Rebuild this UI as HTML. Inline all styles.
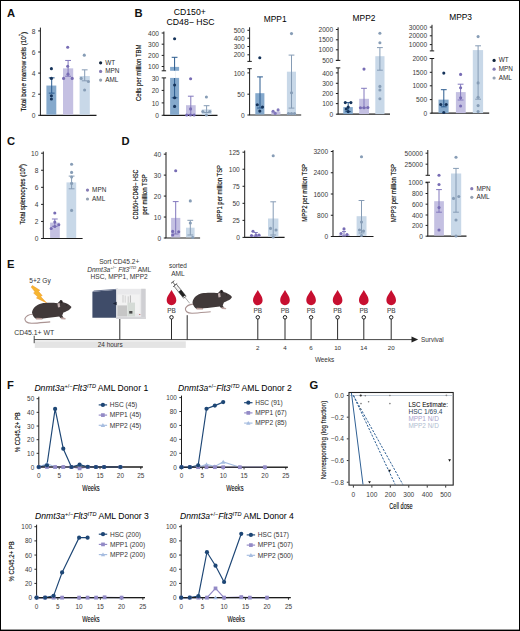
<!DOCTYPE html>
<html><head><meta charset="utf-8"><style>
html,body{margin:0;padding:0;background:#fff;}
body{width:520px;height:631px;overflow:hidden;}
svg{display:block;font-family:"Liberation Sans", sans-serif;}
</style></head><body>
<svg width="520" height="631" viewBox="0 0 520 631">
<rect x="0" y="0" width="520" height="631" fill="#fff"/>
<text x="7" y="16.8" font-size="11.2" fill="#111" font-weight="bold">A</text>
<line x1="40.4" y1="27.6" x2="40.4" y2="115.3" stroke="#1c1c1c" stroke-width="1"/>
<line x1="39.9" y1="115.3" x2="96.5" y2="115.3" stroke="#1c1c1c" stroke-width="1.2"/>
<line x1="38.2" y1="115.3" x2="40.4" y2="115.3" stroke="#1c1c1c" stroke-width="1"/>
<text x="35.5" y="117.94" font-size="6.6" text-anchor="end" fill="#3a3a3a">0</text>
<line x1="38.2" y1="94.2" x2="40.4" y2="94.2" stroke="#1c1c1c" stroke-width="1"/>
<text x="35.5" y="96.84" font-size="6.6" text-anchor="end" fill="#3a3a3a">2</text>
<line x1="38.2" y1="73.1" x2="40.4" y2="73.1" stroke="#1c1c1c" stroke-width="1"/>
<text x="35.5" y="75.74" font-size="6.6" text-anchor="end" fill="#3a3a3a">4</text>
<line x1="38.2" y1="52" x2="40.4" y2="52" stroke="#1c1c1c" stroke-width="1"/>
<text x="35.5" y="54.64" font-size="6.6" text-anchor="end" fill="#3a3a3a">6</text>
<line x1="38.2" y1="30.9" x2="40.4" y2="30.9" stroke="#1c1c1c" stroke-width="1"/>
<text x="35.5" y="33.54" font-size="6.6" text-anchor="end" fill="#3a3a3a">8</text>
<rect x="46.4" y="85.55" width="9.9" height="29.15" fill="#85a9cc"/>
<rect x="63" y="68.35" width="10.2" height="46.35" fill="#c4c0e2"/>
<rect x="79.6" y="76.05" width="10.2" height="38.65" fill="#c8d8e8"/>
<line x1="51.7" y1="77.85" x2="51.7" y2="93.14" stroke="#2a5a8e" stroke-width="1"/>
<line x1="48.8" y1="77.85" x2="54.6" y2="77.85" stroke="#2a5a8e" stroke-width="1"/>
<line x1="48.8" y1="93.14" x2="54.6" y2="93.14" stroke="#2a5a8e" stroke-width="1"/>
<line x1="68.1" y1="60.44" x2="68.1" y2="76.26" stroke="#8278bd" stroke-width="1"/>
<line x1="65.2" y1="60.44" x2="71" y2="60.44" stroke="#8278bd" stroke-width="1"/>
<line x1="65.2" y1="76.26" x2="71" y2="76.26" stroke="#8278bd" stroke-width="1"/>
<line x1="84.7" y1="69.83" x2="84.7" y2="80.8" stroke="#869cb5" stroke-width="1"/>
<line x1="81.8" y1="69.83" x2="87.6" y2="69.83" stroke="#869cb5" stroke-width="1"/>
<line x1="81.8" y1="80.8" x2="87.6" y2="80.8" stroke="#869cb5" stroke-width="1"/>
<circle cx="51.4" cy="68.67" r="1.55" fill="#15335a"/>
<circle cx="51.4" cy="78.38" r="1.55" fill="#15335a"/>
<circle cx="51.4" cy="95.78" r="1.55" fill="#15335a"/>
<circle cx="51.4" cy="98.95" r="1.55" fill="#15335a"/>
<circle cx="67.7" cy="47.25" r="1.55" fill="#776cb4"/>
<circle cx="67.7" cy="66.24" r="1.55" fill="#776cb4"/>
<circle cx="63.6" cy="78.38" r="1.55" fill="#776cb4"/>
<circle cx="72.2" cy="78.38" r="1.55" fill="#776cb4"/>
<circle cx="68" cy="74.16" r="1.55" fill="#776cb4"/>
<circle cx="84.3" cy="55.16" r="1.55" fill="#879db6"/>
<circle cx="81.2" cy="78.38" r="1.55" fill="#879db6"/>
<circle cx="88.4" cy="81.54" r="1.55" fill="#879db6"/>
<circle cx="84.6" cy="89.98" r="1.55" fill="#879db6"/>
<text x="26.2" y="71.7" font-size="7" text-anchor="middle" transform="rotate(-90 26.2 71.7)" textLength="79.4" lengthAdjust="spacingAndGlyphs" stroke="#222" stroke-width="0.15">Total bone marrow cells (10<tspan font-size="4.6" dy="-2.8">7</tspan><tspan dy="2.8">)</tspan></text>
<circle cx="100.6" cy="62.8" r="1.6" fill="#10243c"/>
<text x="105.2" y="64.7" font-size="6.4" fill="#2a2a2a">WT</text>
<circle cx="100.6" cy="71.45" r="1.6" fill="#857bb4"/>
<text x="105.2" y="73.35" font-size="6.4" fill="#2a2a2a">MPN</text>
<circle cx="100.6" cy="80.1" r="1.6" fill="#94a1b2"/>
<text x="105.2" y="82" font-size="6.4" fill="#2a2a2a">AML</text>
<text x="134.6" y="16.9" font-size="11.2" fill="#111" font-weight="bold">B</text>
<text x="189.8" y="14.5" font-size="8.7" text-anchor="middle">CD150+</text>
<text x="190.6" y="25.2" font-size="8.7" text-anchor="middle">CD48− HSC</text>
<text x="141.3" y="72.7" font-size="7.2" text-anchor="middle" transform="rotate(-90 141.3 72.7)" textLength="56.6" lengthAdjust="spacingAndGlyphs" stroke="#222" stroke-width="0.15">Cells per million TBM</text>
<line x1="163.9" y1="31.5" x2="163.9" y2="70.8" stroke="#1c1c1c" stroke-width="1"/>
<line x1="161.7" y1="70.8" x2="166.1" y2="70.8" stroke="#1c1c1c" stroke-width="1"/>
<line x1="163.9" y1="77.9" x2="163.9" y2="115.3" stroke="#1c1c1c" stroke-width="1"/>
<line x1="161.7" y1="77.9" x2="166.1" y2="77.9" stroke="#1c1c1c" stroke-width="1"/>
<line x1="163.4" y1="115.3" x2="217.5" y2="115.3" stroke="#1c1c1c" stroke-width="1.2"/>
<line x1="161.7" y1="33" x2="163.9" y2="33" stroke="#1c1c1c" stroke-width="1"/>
<text x="159" y="35.64" font-size="6.6" text-anchor="end" fill="#3a3a3a">400</text>
<line x1="161.7" y1="44.2" x2="163.9" y2="44.2" stroke="#1c1c1c" stroke-width="1"/>
<text x="159" y="46.84" font-size="6.6" text-anchor="end" fill="#3a3a3a">300</text>
<line x1="161.7" y1="55.4" x2="163.9" y2="55.4" stroke="#1c1c1c" stroke-width="1"/>
<text x="159" y="58.04" font-size="6.6" text-anchor="end" fill="#3a3a3a">200</text>
<line x1="161.7" y1="66.5" x2="163.9" y2="66.5" stroke="#1c1c1c" stroke-width="1"/>
<text x="159" y="69.14" font-size="6.6" text-anchor="end" fill="#3a3a3a">100</text>
<line x1="161.7" y1="90.4" x2="163.9" y2="90.4" stroke="#1c1c1c" stroke-width="1"/>
<text x="159" y="93.04" font-size="6.6" text-anchor="end" fill="#3a3a3a">20</text>
<line x1="161.7" y1="102.9" x2="163.9" y2="102.9" stroke="#1c1c1c" stroke-width="1"/>
<text x="159" y="105.54" font-size="6.6" text-anchor="end" fill="#3a3a3a">10</text>
<line x1="161.7" y1="115.3" x2="163.9" y2="115.3" stroke="#1c1c1c" stroke-width="1"/>
<text x="159" y="117.94" font-size="6.6" text-anchor="end" fill="#3a3a3a">0</text>
<text x="159" y="80.54" font-size="6.6" text-anchor="end" fill="#3a3a3a">30</text>
<rect x="170.1" y="66.9" width="9" height="3.9" fill="#85a9cc"/>
<rect x="170.1" y="77.9" width="9" height="37" fill="#85a9cc"/>
<line x1="174.6" y1="57.3" x2="174.6" y2="97.8" stroke="#2a5a8e" stroke-width="1"/>
<line x1="171.7" y1="57.3" x2="177.5" y2="57.3" stroke="#2a5a8e" stroke-width="1"/>
<line x1="171.7" y1="97.8" x2="177.5" y2="97.8" stroke="#2a5a8e" stroke-width="1"/>
<line x1="174.6" y1="70.8" x2="174.6" y2="77.9" stroke="#fff" stroke-width="1.2"/>
<circle cx="174.6" cy="38.8" r="1.55" fill="#15335a"/>
<circle cx="174.6" cy="85" r="1.55" fill="#15335a"/>
<circle cx="174.6" cy="97.8" r="1.55" fill="#15335a"/>
<circle cx="174.6" cy="106.4" r="1.55" fill="#15335a"/>
<rect x="186" y="105.2" width="9.7" height="9.7" fill="#c4c0e2"/>
<line x1="190.8" y1="96.2" x2="190.8" y2="114.5" stroke="#8278bd" stroke-width="1"/>
<line x1="187.9" y1="96.2" x2="193.7" y2="96.2" stroke="#8278bd" stroke-width="1"/>
<line x1="187.9" y1="114.5" x2="193.7" y2="114.5" stroke="#8278bd" stroke-width="1"/>
<circle cx="190.6" cy="78.7" r="1.55" fill="#776cb4"/>
<circle cx="190.6" cy="108.9" r="1.55" fill="#776cb4"/>
<circle cx="186.7" cy="115" r="1.55" fill="#776cb4"/>
<circle cx="194.1" cy="115" r="1.55" fill="#776cb4"/>
<circle cx="190.4" cy="115" r="1.55" fill="#776cb4"/>
<rect x="201.8" y="109.4" width="9.8" height="5.5" fill="#c8d8e8"/>
<line x1="206.6" y1="105.7" x2="206.6" y2="112.5" stroke="#869cb5" stroke-width="1"/>
<line x1="203.7" y1="105.7" x2="209.5" y2="105.7" stroke="#869cb5" stroke-width="1"/>
<line x1="203.7" y1="112.5" x2="209.5" y2="112.5" stroke="#869cb5" stroke-width="1"/>
<circle cx="206.4" cy="97" r="1.55" fill="#879db6"/>
<circle cx="202.8" cy="111.5" r="1.55" fill="#879db6"/>
<circle cx="209.8" cy="111.5" r="1.55" fill="#879db6"/>
<circle cx="206.4" cy="115" r="1.55" fill="#879db6"/>
<text x="275.2" y="22.1" font-size="8.4" text-anchor="middle">MPP1</text>
<line x1="249.6" y1="27.3" x2="249.6" y2="61.4" stroke="#1c1c1c" stroke-width="1"/>
<line x1="247.4" y1="61.4" x2="251.8" y2="61.4" stroke="#1c1c1c" stroke-width="1"/>
<line x1="249.6" y1="68.7" x2="249.6" y2="115" stroke="#1c1c1c" stroke-width="1"/>
<line x1="247.4" y1="68.7" x2="251.8" y2="68.7" stroke="#1c1c1c" stroke-width="1"/>
<line x1="249.1" y1="115" x2="301.2" y2="115" stroke="#1c1c1c" stroke-width="1.2"/>
<line x1="247.4" y1="30.3" x2="249.6" y2="30.3" stroke="#1c1c1c" stroke-width="1"/>
<text x="244.7" y="32.94" font-size="6.6" text-anchor="end" fill="#3a3a3a">500</text>
<line x1="247.4" y1="38.2" x2="249.6" y2="38.2" stroke="#1c1c1c" stroke-width="1"/>
<text x="244.7" y="40.84" font-size="6.6" text-anchor="end" fill="#3a3a3a">400</text>
<line x1="247.4" y1="46.5" x2="249.6" y2="46.5" stroke="#1c1c1c" stroke-width="1"/>
<text x="244.7" y="49.14" font-size="6.6" text-anchor="end" fill="#3a3a3a">300</text>
<line x1="247.4" y1="54.8" x2="249.6" y2="54.8" stroke="#1c1c1c" stroke-width="1"/>
<text x="244.7" y="57.44" font-size="6.6" text-anchor="end" fill="#3a3a3a">200</text>
<line x1="247.4" y1="72.9" x2="249.6" y2="72.9" stroke="#1c1c1c" stroke-width="1"/>
<text x="244.7" y="75.54" font-size="6.6" text-anchor="end" fill="#3a3a3a">100</text>
<line x1="247.4" y1="94.2" x2="249.6" y2="94.2" stroke="#1c1c1c" stroke-width="1"/>
<text x="244.7" y="96.84" font-size="6.6" text-anchor="end" fill="#3a3a3a">50</text>
<line x1="247.4" y1="115" x2="249.6" y2="115" stroke="#1c1c1c" stroke-width="1"/>
<text x="244.7" y="117.64" font-size="6.6" text-anchor="end" fill="#3a3a3a">0</text>
<rect x="255.3" y="93.2" width="9.1" height="21.3" fill="#85a9cc"/>
<line x1="260" y1="76.9" x2="260" y2="108" stroke="#2a5a8e" stroke-width="1"/>
<line x1="257.1" y1="76.9" x2="262.9" y2="76.9" stroke="#2a5a8e" stroke-width="1"/>
<line x1="257.1" y1="108" x2="262.9" y2="108" stroke="#2a5a8e" stroke-width="1"/>
<circle cx="259.8" cy="57.8" r="1.55" fill="#15335a"/>
<circle cx="257.3" cy="104.8" r="1.55" fill="#15335a"/>
<circle cx="262.5" cy="107" r="1.55" fill="#15335a"/>
<circle cx="259.8" cy="111.1" r="1.55" fill="#15335a"/>
<rect x="271.3" y="111.6" width="9.1" height="3" fill="#c4c0e2"/>
<circle cx="273.1" cy="111.3" r="1.55" fill="#8177bb"/>
<circle cx="278.1" cy="109.9" r="1.55" fill="#8177bb"/>
<circle cx="275.2" cy="113.4" r="1.55" fill="#8177bb"/>
<rect x="286.9" y="71.7" width="9.1" height="42.8" fill="#c8d8e8"/>
<line x1="291.5" y1="55.1" x2="291.5" y2="108.1" stroke="#869cb5" stroke-width="1"/>
<line x1="288.6" y1="55.1" x2="294.4" y2="55.1" stroke="#869cb5" stroke-width="1"/>
<line x1="288.6" y1="108.1" x2="294.4" y2="108.1" stroke="#869cb5" stroke-width="1"/>
<circle cx="291.5" cy="33.6" r="1.55" fill="#879db6"/>
<circle cx="291.5" cy="92.7" r="1.55" fill="#879db6"/>
<circle cx="288.5" cy="113.6" r="1.55" fill="#879db6"/>
<circle cx="291.5" cy="113.6" r="1.55" fill="#879db6"/>
<circle cx="294.5" cy="113.6" r="1.55" fill="#879db6"/>
<text x="364" y="21.2" font-size="8.4" text-anchor="middle">MPP2</text>
<line x1="338.1" y1="27.3" x2="338.1" y2="60.4" stroke="#1c1c1c" stroke-width="1"/>
<line x1="335.9" y1="60.4" x2="340.3" y2="60.4" stroke="#1c1c1c" stroke-width="1"/>
<line x1="338.1" y1="67.9" x2="338.1" y2="114.2" stroke="#1c1c1c" stroke-width="1"/>
<line x1="335.9" y1="67.9" x2="340.3" y2="67.9" stroke="#1c1c1c" stroke-width="1"/>
<line x1="337.6" y1="114.2" x2="390" y2="114.2" stroke="#1c1c1c" stroke-width="1.2"/>
<line x1="335.9" y1="29.5" x2="338.1" y2="29.5" stroke="#1c1c1c" stroke-width="1"/>
<text x="333.2" y="32.14" font-size="6.6" text-anchor="end" fill="#3a3a3a">2000</text>
<line x1="335.9" y1="39.8" x2="338.1" y2="39.8" stroke="#1c1c1c" stroke-width="1"/>
<text x="333.2" y="42.44" font-size="6.6" text-anchor="end" fill="#3a3a3a">1500</text>
<line x1="335.9" y1="49.8" x2="338.1" y2="49.8" stroke="#1c1c1c" stroke-width="1"/>
<text x="333.2" y="52.44" font-size="6.6" text-anchor="end" fill="#3a3a3a">1000</text>
<line x1="335.9" y1="60.4" x2="338.1" y2="60.4" stroke="#1c1c1c" stroke-width="1"/>
<text x="333.2" y="63.04" font-size="6.6" text-anchor="end" fill="#3a3a3a">500</text>
<line x1="335.9" y1="72.9" x2="338.1" y2="72.9" stroke="#1c1c1c" stroke-width="1"/>
<text x="333.2" y="75.54" font-size="6.6" text-anchor="end" fill="#3a3a3a">400</text>
<line x1="335.9" y1="83.3" x2="338.1" y2="83.3" stroke="#1c1c1c" stroke-width="1"/>
<text x="333.2" y="85.94" font-size="6.6" text-anchor="end" fill="#3a3a3a">300</text>
<line x1="335.9" y1="93.5" x2="338.1" y2="93.5" stroke="#1c1c1c" stroke-width="1"/>
<text x="333.2" y="96.14" font-size="6.6" text-anchor="end" fill="#3a3a3a">200</text>
<line x1="335.9" y1="103.6" x2="338.1" y2="103.6" stroke="#1c1c1c" stroke-width="1"/>
<text x="333.2" y="106.24" font-size="6.6" text-anchor="end" fill="#3a3a3a">100</text>
<line x1="335.9" y1="114.2" x2="338.1" y2="114.2" stroke="#1c1c1c" stroke-width="1"/>
<text x="333.2" y="116.84" font-size="6.6" text-anchor="end" fill="#3a3a3a">0</text>
<rect x="343.3" y="107.1" width="9.5" height="7" fill="#85a9cc"/>
<line x1="348.2" y1="102.6" x2="348.2" y2="111.6" stroke="#2a5a8e" stroke-width="1"/>
<line x1="345.3" y1="102.6" x2="351.1" y2="102.6" stroke="#2a5a8e" stroke-width="1"/>
<line x1="345.3" y1="111.6" x2="351.1" y2="111.6" stroke="#2a5a8e" stroke-width="1"/>
<circle cx="345.3" cy="102.6" r="1.55" fill="#15335a"/>
<circle cx="350.9" cy="102.6" r="1.55" fill="#15335a"/>
<circle cx="348.2" cy="107.1" r="1.55" fill="#15335a"/>
<circle cx="348.2" cy="111.6" r="1.55" fill="#15335a"/>
<circle cx="346.3" cy="109" r="1.55" fill="#15335a"/>
<rect x="359.2" y="98.8" width="9.8" height="15.3" fill="#c4c0e2"/>
<line x1="364" y1="88.3" x2="364" y2="107.8" stroke="#8278bd" stroke-width="1"/>
<line x1="361.1" y1="88.3" x2="366.9" y2="88.3" stroke="#8278bd" stroke-width="1"/>
<line x1="361.1" y1="107.8" x2="366.9" y2="107.8" stroke="#8278bd" stroke-width="1"/>
<circle cx="364" cy="69.1" r="1.55" fill="#776cb4"/>
<circle cx="360.4" cy="107.8" r="1.55" fill="#776cb4"/>
<circle cx="364" cy="107.8" r="1.55" fill="#776cb4"/>
<circle cx="367.9" cy="107.5" r="1.55" fill="#776cb4"/>
<rect x="375.3" y="56.2" width="9.2" height="57.9" fill="#c8d8e8"/>
<line x1="379.9" y1="47.6" x2="379.9" y2="70.2" stroke="#869cb5" stroke-width="1"/>
<line x1="377" y1="47.6" x2="382.8" y2="47.6" stroke="#869cb5" stroke-width="1"/>
<line x1="377" y1="70.2" x2="382.8" y2="70.2" stroke="#869cb5" stroke-width="1"/>
<circle cx="379.9" cy="33.3" r="1.55" fill="#879db6"/>
<circle cx="379.9" cy="42.8" r="1.55" fill="#879db6"/>
<circle cx="379.9" cy="86.4" r="1.55" fill="#879db6"/>
<circle cx="379.9" cy="90" r="1.55" fill="#879db6"/>
<circle cx="379.9" cy="98.8" r="1.55" fill="#879db6"/>
<text x="460.6" y="19.9" font-size="8.4" text-anchor="middle">MPP3</text>
<line x1="432" y1="24.8" x2="432" y2="50.9" stroke="#1c1c1c" stroke-width="1"/>
<line x1="429.8" y1="50.9" x2="434.2" y2="50.9" stroke="#1c1c1c" stroke-width="1"/>
<line x1="432" y1="58.5" x2="432" y2="113.2" stroke="#1c1c1c" stroke-width="1"/>
<line x1="429.8" y1="58.5" x2="434.2" y2="58.5" stroke="#1c1c1c" stroke-width="1"/>
<line x1="431.5" y1="113.2" x2="489.2" y2="113.2" stroke="#1c1c1c" stroke-width="1.2"/>
<line x1="429.8" y1="27.1" x2="432" y2="27.1" stroke="#1c1c1c" stroke-width="1"/>
<text x="427.1" y="29.74" font-size="6.6" text-anchor="end" fill="#3a3a3a">30000</text>
<line x1="429.8" y1="35.8" x2="432" y2="35.8" stroke="#1c1c1c" stroke-width="1"/>
<text x="427.1" y="38.44" font-size="6.6" text-anchor="end" fill="#3a3a3a">20000</text>
<line x1="429.8" y1="44.6" x2="432" y2="44.6" stroke="#1c1c1c" stroke-width="1"/>
<text x="427.1" y="47.24" font-size="6.6" text-anchor="end" fill="#3a3a3a">10000</text>
<line x1="429.8" y1="58.5" x2="432" y2="58.5" stroke="#1c1c1c" stroke-width="1"/>
<text x="427.1" y="61.14" font-size="6.6" text-anchor="end" fill="#3a3a3a">2000</text>
<line x1="429.8" y1="72.3" x2="432" y2="72.3" stroke="#1c1c1c" stroke-width="1"/>
<text x="427.1" y="74.94" font-size="6.6" text-anchor="end" fill="#3a3a3a">1500</text>
<line x1="429.8" y1="85.8" x2="432" y2="85.8" stroke="#1c1c1c" stroke-width="1"/>
<text x="427.1" y="88.44" font-size="6.6" text-anchor="end" fill="#3a3a3a">1000</text>
<line x1="429.8" y1="99.6" x2="432" y2="99.6" stroke="#1c1c1c" stroke-width="1"/>
<text x="427.1" y="102.24" font-size="6.6" text-anchor="end" fill="#3a3a3a">500</text>
<line x1="429.8" y1="113.2" x2="432" y2="113.2" stroke="#1c1c1c" stroke-width="1"/>
<text x="427.1" y="115.84" font-size="6.6" text-anchor="end" fill="#3a3a3a">0</text>
<rect x="438.5" y="99.6" width="10.1" height="13.5" fill="#85a9cc"/>
<line x1="443.8" y1="89.7" x2="443.8" y2="106.8" stroke="#2a5a8e" stroke-width="1"/>
<line x1="440.9" y1="89.7" x2="446.7" y2="89.7" stroke="#2a5a8e" stroke-width="1"/>
<line x1="440.9" y1="106.8" x2="446.7" y2="106.8" stroke="#2a5a8e" stroke-width="1"/>
<circle cx="443.8" cy="73.1" r="1.55" fill="#15335a"/>
<circle cx="440.8" cy="104.5" r="1.55" fill="#15335a"/>
<circle cx="446.2" cy="104.5" r="1.55" fill="#15335a"/>
<circle cx="443.8" cy="112.5" r="1.55" fill="#15335a"/>
<rect x="455.9" y="92.1" width="9.8" height="21" fill="#c4c0e2"/>
<line x1="460.6" y1="84.2" x2="460.6" y2="100" stroke="#8278bd" stroke-width="1"/>
<line x1="457.7" y1="84.2" x2="463.5" y2="84.2" stroke="#8278bd" stroke-width="1"/>
<line x1="457.7" y1="100" x2="463.5" y2="100" stroke="#8278bd" stroke-width="1"/>
<circle cx="460.6" cy="74.4" r="1.55" fill="#776cb4"/>
<circle cx="460.6" cy="87.8" r="1.55" fill="#776cb4"/>
<circle cx="460.6" cy="97.7" r="1.55" fill="#776cb4"/>
<circle cx="460.6" cy="106" r="1.55" fill="#776cb4"/>
<rect x="472.8" y="50.1" width="10.3" height="63" fill="#c8d8e8"/>
<line x1="478.1" y1="45.8" x2="478.1" y2="99.2" stroke="#869cb5" stroke-width="1"/>
<line x1="475.2" y1="45.8" x2="481" y2="45.8" stroke="#869cb5" stroke-width="1"/>
<line x1="475.2" y1="99.2" x2="481" y2="99.2" stroke="#869cb5" stroke-width="1"/>
<circle cx="478.1" cy="36.6" r="1.55" fill="#879db6"/>
<circle cx="478.1" cy="82.9" r="1.55" fill="#879db6"/>
<circle cx="478.1" cy="97.2" r="1.55" fill="#879db6"/>
<circle cx="478.1" cy="105.6" r="1.55" fill="#879db6"/>
<circle cx="478.1" cy="111.6" r="1.55" fill="#879db6"/>
<circle cx="494.1" cy="60.4" r="1.6" fill="#10243c"/>
<text x="498.7" y="62.3" font-size="6.4" fill="#2a2a2a">WT</text>
<circle cx="494.1" cy="69.2" r="1.6" fill="#857bb4"/>
<text x="498.7" y="71.1" font-size="6.4" fill="#2a2a2a">MPN</text>
<circle cx="494.1" cy="78" r="1.6" fill="#94a1b2"/>
<text x="498.7" y="79.9" font-size="6.4" fill="#2a2a2a">AML</text>
<text x="7.1" y="144.6" font-size="11.2" fill="#111" font-weight="bold">C</text>
<line x1="43.3" y1="151.5" x2="43.3" y2="238.5" stroke="#1c1c1c" stroke-width="1"/>
<line x1="42.8" y1="238.5" x2="82.6" y2="238.5" stroke="#1c1c1c" stroke-width="1.2"/>
<line x1="41.1" y1="238.5" x2="43.3" y2="238.5" stroke="#1c1c1c" stroke-width="1"/>
<text x="38.4" y="241.14" font-size="6.6" text-anchor="end" fill="#3a3a3a">0</text>
<line x1="41.1" y1="221.44" x2="43.3" y2="221.44" stroke="#1c1c1c" stroke-width="1"/>
<text x="38.4" y="224.08" font-size="6.6" text-anchor="end" fill="#3a3a3a">2</text>
<line x1="41.1" y1="204.38" x2="43.3" y2="204.38" stroke="#1c1c1c" stroke-width="1"/>
<text x="38.4" y="207.02" font-size="6.6" text-anchor="end" fill="#3a3a3a">4</text>
<line x1="41.1" y1="187.32" x2="43.3" y2="187.32" stroke="#1c1c1c" stroke-width="1"/>
<text x="38.4" y="189.96" font-size="6.6" text-anchor="end" fill="#3a3a3a">6</text>
<line x1="41.1" y1="170.26" x2="43.3" y2="170.26" stroke="#1c1c1c" stroke-width="1"/>
<text x="38.4" y="172.9" font-size="6.6" text-anchor="end" fill="#3a3a3a">8</text>
<line x1="41.1" y1="153.2" x2="43.3" y2="153.2" stroke="#1c1c1c" stroke-width="1"/>
<text x="38.4" y="155.84" font-size="6.6" text-anchor="end" fill="#3a3a3a">10</text>
<rect x="50.1" y="222.6" width="9.7" height="15.3" fill="#c4c0e2"/>
<line x1="54.8" y1="219" x2="54.8" y2="226.3" stroke="#8278bd" stroke-width="1"/>
<line x1="51.9" y1="219" x2="57.7" y2="219" stroke="#8278bd" stroke-width="1"/>
<line x1="51.9" y1="226.3" x2="57.7" y2="226.3" stroke="#8278bd" stroke-width="1"/>
<circle cx="54.8" cy="213" r="1.55" fill="#776cb4"/>
<circle cx="54.8" cy="222.1" r="1.55" fill="#776cb4"/>
<circle cx="51.2" cy="228.5" r="1.55" fill="#776cb4"/>
<circle cx="58.8" cy="224.8" r="1.55" fill="#776cb4"/>
<circle cx="54.8" cy="226.5" r="1.55" fill="#776cb4"/>
<rect x="66.5" y="182.4" width="9.7" height="55.5" fill="#c8d8e8"/>
<line x1="71.6" y1="176.1" x2="71.6" y2="188.8" stroke="#869cb5" stroke-width="1"/>
<line x1="68.7" y1="176.1" x2="74.5" y2="176.1" stroke="#869cb5" stroke-width="1"/>
<line x1="68.7" y1="188.8" x2="74.5" y2="188.8" stroke="#869cb5" stroke-width="1"/>
<circle cx="71.6" cy="164.2" r="1.55" fill="#879db6"/>
<circle cx="71.6" cy="172.4" r="1.55" fill="#879db6"/>
<circle cx="71.6" cy="177" r="1.55" fill="#879db6"/>
<circle cx="71.6" cy="183.4" r="1.55" fill="#879db6"/>
<circle cx="71.6" cy="210.4" r="1.55" fill="#879db6"/>
<text x="24.8" y="194.2" font-size="6.6" text-anchor="middle" transform="rotate(-90 24.8 194.2)" textLength="60.5" lengthAdjust="spacingAndGlyphs" stroke="#222" stroke-width="0.15">Total splenocytes (10<tspan font-size="4.4" dy="-2.6">8</tspan><tspan dy="2.6">)</tspan></text>
<circle cx="87.5" cy="190.1" r="1.6" fill="#857bb4"/>
<text x="92.1" y="192" font-size="6.4" fill="#2a2a2a">MPN</text>
<circle cx="87.5" cy="199" r="1.6" fill="#94a1b2"/>
<text x="92.1" y="200.9" font-size="6.4" fill="#2a2a2a">AML</text>
<text x="121.5" y="144.6" font-size="11.2" fill="#111" font-weight="bold">D</text>
<line x1="166" y1="152.1" x2="166" y2="238" stroke="#1c1c1c" stroke-width="1"/>
<line x1="165.5" y1="238" x2="200.1" y2="238" stroke="#1c1c1c" stroke-width="1.2"/>
<line x1="163.8" y1="238" x2="166" y2="238" stroke="#1c1c1c" stroke-width="1"/>
<text x="161.1" y="240.64" font-size="6.6" text-anchor="end" fill="#3a3a3a">0</text>
<line x1="163.8" y1="217.04" x2="166" y2="217.04" stroke="#1c1c1c" stroke-width="1"/>
<text x="161.1" y="219.68" font-size="6.6" text-anchor="end" fill="#3a3a3a">10</text>
<line x1="163.8" y1="196.08" x2="166" y2="196.08" stroke="#1c1c1c" stroke-width="1"/>
<text x="161.1" y="198.72" font-size="6.6" text-anchor="end" fill="#3a3a3a">20</text>
<line x1="163.8" y1="175.12" x2="166" y2="175.12" stroke="#1c1c1c" stroke-width="1"/>
<text x="161.1" y="177.76" font-size="6.6" text-anchor="end" fill="#3a3a3a">30</text>
<line x1="163.8" y1="154.16" x2="166" y2="154.16" stroke="#1c1c1c" stroke-width="1"/>
<text x="161.1" y="156.8" font-size="6.6" text-anchor="end" fill="#3a3a3a">40</text>
<rect x="171.1" y="217.9" width="9.2" height="19.5" fill="#c4c0e2"/>
<line x1="175.7" y1="201.6" x2="175.7" y2="234" stroke="#8278bd" stroke-width="1"/>
<line x1="172.8" y1="201.6" x2="178.6" y2="201.6" stroke="#8278bd" stroke-width="1"/>
<line x1="172.8" y1="234" x2="178.6" y2="234" stroke="#8278bd" stroke-width="1"/>
<circle cx="175.7" cy="170.8" r="1.55" fill="#776cb4"/>
<circle cx="172.7" cy="231.4" r="1.55" fill="#776cb4"/>
<circle cx="178.7" cy="231.8" r="1.55" fill="#776cb4"/>
<circle cx="172.7" cy="235" r="1.55" fill="#776cb4"/>
<rect x="186" y="227.7" width="8.6" height="9.7" fill="#c8d8e8"/>
<line x1="190.3" y1="220.3" x2="190.3" y2="235" stroke="#869cb5" stroke-width="1"/>
<line x1="187.4" y1="220.3" x2="193.2" y2="220.3" stroke="#869cb5" stroke-width="1"/>
<line x1="187.4" y1="235" x2="193.2" y2="235" stroke="#869cb5" stroke-width="1"/>
<circle cx="190.3" cy="200.9" r="1.55" fill="#879db6"/>
<circle cx="190.3" cy="223" r="1.55" fill="#879db6"/>
<circle cx="192.7" cy="237.5" r="1.55" fill="#879db6"/>
<text x="137.5" y="194.5" font-size="6.8" text-anchor="middle" transform="rotate(-90 137.5 194.5)" textLength="50" lengthAdjust="spacingAndGlyphs" stroke="#222" stroke-width="0.15">CD150+CD48− HSC</text>
<text x="147" y="194.5" font-size="6.8" text-anchor="middle" transform="rotate(-90 147 194.5)" textLength="40.4" lengthAdjust="spacingAndGlyphs" stroke="#222" stroke-width="0.15">per million TSP</text>
<line x1="244.7" y1="150.5" x2="244.7" y2="237.4" stroke="#1c1c1c" stroke-width="1"/>
<line x1="244.2" y1="237.4" x2="284.6" y2="237.4" stroke="#1c1c1c" stroke-width="1.2"/>
<line x1="242.5" y1="237.4" x2="244.7" y2="237.4" stroke="#1c1c1c" stroke-width="1"/>
<text x="239.8" y="240.04" font-size="6.6" text-anchor="end" fill="#3a3a3a">0</text>
<line x1="242.5" y1="220.36" x2="244.7" y2="220.36" stroke="#1c1c1c" stroke-width="1"/>
<text x="239.8" y="223" font-size="6.6" text-anchor="end" fill="#3a3a3a">25</text>
<line x1="242.5" y1="203.32" x2="244.7" y2="203.32" stroke="#1c1c1c" stroke-width="1"/>
<text x="239.8" y="205.96" font-size="6.6" text-anchor="end" fill="#3a3a3a">50</text>
<line x1="242.5" y1="186.28" x2="244.7" y2="186.28" stroke="#1c1c1c" stroke-width="1"/>
<text x="239.8" y="188.92" font-size="6.6" text-anchor="end" fill="#3a3a3a">75</text>
<line x1="242.5" y1="169.24" x2="244.7" y2="169.24" stroke="#1c1c1c" stroke-width="1"/>
<text x="239.8" y="171.88" font-size="6.6" text-anchor="end" fill="#3a3a3a">100</text>
<line x1="242.5" y1="152.2" x2="244.7" y2="152.2" stroke="#1c1c1c" stroke-width="1"/>
<text x="239.8" y="154.84" font-size="6.6" text-anchor="end" fill="#3a3a3a">125</text>
<rect x="250.7" y="235" width="10.3" height="1.8" fill="#c4c0e2"/>
<circle cx="253" cy="231.2" r="1.55" fill="#776cb4"/>
<circle cx="256" cy="235" r="1.55" fill="#776cb4"/>
<circle cx="259" cy="235" r="1.55" fill="#776cb4"/>
<circle cx="251.5" cy="235.5" r="1.55" fill="#776cb4"/>
<line x1="255.8" y1="232.5" x2="255.8" y2="236.5" stroke="#8278bd" stroke-width="1"/>
<line x1="253.8" y1="232.5" x2="257.8" y2="232.5" stroke="#8278bd" stroke-width="1"/>
<line x1="253.8" y1="236.5" x2="257.8" y2="236.5" stroke="#8278bd" stroke-width="1"/>
<rect x="268" y="218.5" width="10.4" height="18.3" fill="#c8d8e8"/>
<line x1="273.2" y1="201.8" x2="273.2" y2="235" stroke="#869cb5" stroke-width="1"/>
<line x1="270.3" y1="201.8" x2="276.1" y2="201.8" stroke="#869cb5" stroke-width="1"/>
<line x1="270.3" y1="235" x2="276.1" y2="235" stroke="#869cb5" stroke-width="1"/>
<circle cx="273.2" cy="155.7" r="1.55" fill="#879db6"/>
<circle cx="270.5" cy="228.4" r="1.55" fill="#879db6"/>
<circle cx="276" cy="230" r="1.55" fill="#879db6"/>
<circle cx="273.2" cy="237" r="1.55" fill="#879db6"/>
<text x="222.3" y="193.6" font-size="7" text-anchor="middle" transform="rotate(-90 222.3 193.6)" textLength="57.2" lengthAdjust="spacingAndGlyphs" stroke="#222" stroke-width="0.15">MPP1 per million TSP</text>
<line x1="333" y1="150" x2="333" y2="236.5" stroke="#1c1c1c" stroke-width="1"/>
<line x1="332.5" y1="236.5" x2="373.5" y2="236.5" stroke="#1c1c1c" stroke-width="1.2"/>
<line x1="330.8" y1="236.5" x2="333" y2="236.5" stroke="#1c1c1c" stroke-width="1"/>
<text x="328.1" y="239.14" font-size="6.6" text-anchor="end" fill="#3a3a3a">0</text>
<line x1="330.8" y1="215.25" x2="333" y2="215.25" stroke="#1c1c1c" stroke-width="1"/>
<text x="328.1" y="217.89" font-size="6.6" text-anchor="end" fill="#3a3a3a">800</text>
<line x1="330.8" y1="194" x2="333" y2="194" stroke="#1c1c1c" stroke-width="1"/>
<text x="328.1" y="196.64" font-size="6.6" text-anchor="end" fill="#3a3a3a">1600</text>
<line x1="330.8" y1="172.75" x2="333" y2="172.75" stroke="#1c1c1c" stroke-width="1"/>
<text x="328.1" y="175.39" font-size="6.6" text-anchor="end" fill="#3a3a3a">2400</text>
<line x1="330.8" y1="151.5" x2="333" y2="151.5" stroke="#1c1c1c" stroke-width="1"/>
<text x="328.1" y="154.14" font-size="6.6" text-anchor="end" fill="#3a3a3a">3200</text>
<rect x="338.8" y="234.6" width="10.9" height="1.4" fill="#c4c0e2"/>
<line x1="344" y1="231.6" x2="344" y2="236" stroke="#8278bd" stroke-width="1"/>
<line x1="342" y1="231.6" x2="346" y2="231.6" stroke="#8278bd" stroke-width="1"/>
<line x1="342" y1="236" x2="346" y2="236" stroke="#8278bd" stroke-width="1"/>
<circle cx="344" cy="228.9" r="1.55" fill="#776cb4"/>
<circle cx="341" cy="233.5" r="1.55" fill="#776cb4"/>
<circle cx="347" cy="234.5" r="1.55" fill="#776cb4"/>
<rect x="356.6" y="216.2" width="9.9" height="19.7" fill="#c8d8e8"/>
<line x1="361.5" y1="200.5" x2="361.5" y2="233" stroke="#869cb5" stroke-width="1"/>
<line x1="358.6" y1="200.5" x2="364.4" y2="200.5" stroke="#869cb5" stroke-width="1"/>
<line x1="358.6" y1="233" x2="364.4" y2="233" stroke="#869cb5" stroke-width="1"/>
<circle cx="361.5" cy="156.8" r="1.55" fill="#879db6"/>
<circle cx="361.5" cy="222" r="1.55" fill="#879db6"/>
<circle cx="359.5" cy="230" r="1.55" fill="#879db6"/>
<circle cx="363.5" cy="231" r="1.55" fill="#879db6"/>
<circle cx="361.5" cy="235.5" r="1.55" fill="#879db6"/>
<text x="307.4" y="192.8" font-size="7" text-anchor="middle" transform="rotate(-90 307.4 192.8)" textLength="57.7" lengthAdjust="spacingAndGlyphs" stroke="#222" stroke-width="0.15">MPP2 per million TSP</text>
<line x1="427.8" y1="150" x2="427.8" y2="175.3" stroke="#1c1c1c" stroke-width="1"/>
<line x1="425.6" y1="175.3" x2="430" y2="175.3" stroke="#1c1c1c" stroke-width="1"/>
<line x1="427.8" y1="182.2" x2="427.8" y2="236.2" stroke="#1c1c1c" stroke-width="1"/>
<line x1="425.6" y1="182.2" x2="430" y2="182.2" stroke="#1c1c1c" stroke-width="1"/>
<line x1="427.3" y1="236.2" x2="466.5" y2="236.2" stroke="#1c1c1c" stroke-width="1.2"/>
<line x1="425.6" y1="153.2" x2="427.8" y2="153.2" stroke="#1c1c1c" stroke-width="1"/>
<text x="422.9" y="155.84" font-size="6.6" text-anchor="end" fill="#3a3a3a">50000</text>
<line x1="425.6" y1="164.2" x2="427.8" y2="164.2" stroke="#1c1c1c" stroke-width="1"/>
<text x="422.9" y="166.84" font-size="6.6" text-anchor="end" fill="#3a3a3a">25000</text>
<line x1="425.6" y1="182.7" x2="427.8" y2="182.7" stroke="#1c1c1c" stroke-width="1"/>
<text x="422.9" y="185.34" font-size="6.6" text-anchor="end" fill="#3a3a3a">1000</text>
<line x1="425.6" y1="193.5" x2="427.8" y2="193.5" stroke="#1c1c1c" stroke-width="1"/>
<text x="422.9" y="196.14" font-size="6.6" text-anchor="end" fill="#3a3a3a">800</text>
<line x1="425.6" y1="204.2" x2="427.8" y2="204.2" stroke="#1c1c1c" stroke-width="1"/>
<text x="422.9" y="206.84" font-size="6.6" text-anchor="end" fill="#3a3a3a">600</text>
<line x1="425.6" y1="215" x2="427.8" y2="215" stroke="#1c1c1c" stroke-width="1"/>
<text x="422.9" y="217.64" font-size="6.6" text-anchor="end" fill="#3a3a3a">400</text>
<line x1="425.6" y1="225.4" x2="427.8" y2="225.4" stroke="#1c1c1c" stroke-width="1"/>
<text x="422.9" y="228.04" font-size="6.6" text-anchor="end" fill="#3a3a3a">200</text>
<line x1="425.6" y1="236.2" x2="427.8" y2="236.2" stroke="#1c1c1c" stroke-width="1"/>
<text x="422.9" y="238.84" font-size="6.6" text-anchor="end" fill="#3a3a3a">0</text>
<rect x="434.2" y="201.2" width="9.7" height="34.4" fill="#c4c0e2"/>
<line x1="439" y1="189.6" x2="439" y2="212.2" stroke="#8278bd" stroke-width="1"/>
<line x1="436.1" y1="189.6" x2="441.9" y2="189.6" stroke="#8278bd" stroke-width="1"/>
<line x1="436.1" y1="212.2" x2="441.9" y2="212.2" stroke="#8278bd" stroke-width="1"/>
<circle cx="439" cy="175.3" r="1.55" fill="#776cb4"/>
<circle cx="439" cy="184.5" r="1.55" fill="#776cb4"/>
<circle cx="439" cy="207.6" r="1.55" fill="#776cb4"/>
<circle cx="439" cy="230" r="1.55" fill="#776cb4"/>
<rect x="451" y="173.5" width="10.2" height="62.1" fill="#c8d8e8"/>
<line x1="456" y1="168.4" x2="456" y2="212.2" stroke="#869cb5" stroke-width="1"/>
<line x1="453.1" y1="168.4" x2="458.9" y2="168.4" stroke="#869cb5" stroke-width="1"/>
<line x1="453.1" y1="212.2" x2="458.9" y2="212.2" stroke="#869cb5" stroke-width="1"/>
<circle cx="456" cy="157.3" r="1.55" fill="#879db6"/>
<circle cx="453.5" cy="198.4" r="1.55" fill="#879db6"/>
<circle cx="458.8" cy="196.5" r="1.55" fill="#879db6"/>
<circle cx="456" cy="220" r="1.55" fill="#879db6"/>
<circle cx="456" cy="236" r="1.55" fill="#879db6"/>
<circle cx="471.8" cy="188.7" r="1.6" fill="#857bb4"/>
<text x="476.4" y="190.6" font-size="6.4" fill="#2a2a2a">MPN</text>
<circle cx="471.8" cy="197.3" r="1.6" fill="#94a1b2"/>
<text x="476.4" y="199.2" font-size="6.4" fill="#2a2a2a">AML</text>
<text x="396.3" y="193.1" font-size="7" text-anchor="middle" transform="rotate(-90 396.3 193.1)" textLength="58.2" lengthAdjust="spacingAndGlyphs" stroke="#222" stroke-width="0.15">MPP3 per million TSP</text>
<text x="7.1" y="267.8" font-size="11.2" fill="#111" font-weight="bold">E</text>
<text x="40" y="283.2" font-size="6.6" text-anchor="middle" fill="#333">5+2 Gy</text>
<path d="M32.4 285.5 L39.9 290.3 L38.4 291.3 L42.2 295.6 L40.6 296.5 L46.7 302.9 L36.4 297.9 L38.0 297.0 L33.6 293.0 L35.1 292.0 L31.2 287.1 Z" fill="#f6b530" stroke="#ef8d1e" stroke-width="0.45"/>
<g transform="translate(0 0)">
<path d="M32.6 314.2 C29.5 314.4 26.2 315.8 25.0 318.4 C24.4 321 26.5 323.2 31.5 323.3 C38 323.2 44 322.4 50.2 321.9" fill="none" stroke="#aa9392" stroke-width="1.15"/>
<path d="M32 312.6 C32.5 308 36.5 304.6 41.5 303.4 C46 302.6 53 302.8 57.5 303.2 L59.2 301.4 L60.6 299.9 L62.2 300.6 L63 302.2 C66.5 303 69.8 304.8 71.5 307 C70.8 308.6 69.5 309.8 68.2 310.4 C66.5 311.2 64.5 312 63.4 312.6 L62.2 315.6 L63.6 317.8 L60.6 318.2 L59.2 316.6 C54 317.4 48 317.8 43 318.4 L41.5 319.0 L36.5 319.0 C34 318 32.6 316 32 312.6 Z" fill="#413939"/>
<path d="M57.4 303.6 L59.6 303.0 L60.2 307.0 L58.0 307.6 Z" fill="#c6b3b2"/>
<path d="M60.4 300.2 L61.8 300.8 L62.0 303.0 L60.6 303.2 Z" fill="#241f20"/>
<circle cx="66.2" cy="305" r="0.45" fill="#0d0d0d"/>
<path d="M60.8 317.4 L63.8 317.6 L65.8 318.4 L65.4 319.4 L61.2 319.2 Z" fill="#bfa5a2"/>
<path d="M36.2 317.8 L42.0 318.0 L42.6 319.6 L36.0 319.6 Z" fill="#b49894"/>
</g>
<text x="34.2" y="334.6" font-size="6.9" text-anchor="middle" fill="#333">CD45.1+ WT</text>
<rect x="34.8" y="341.3" width="151" height="6.6" fill="#e4e4e4"/>
<text x="110.2" y="346.6" font-size="6.4" text-anchor="middle" fill="#333">24 hours</text>
<line x1="34.2" y1="335.8" x2="34.2" y2="343.2" stroke="#333" stroke-width="0.9"/>
<line x1="34.2" y1="339.6" x2="413.5" y2="339.6" stroke="#333" stroke-width="0.9"/>
<path d="M411.5 336.6 L418.2 339.6 L411.5 342.6 Z" fill="#222"/>
<text x="421" y="342" font-size="6.4" fill="#333">Survival</text>
<text x="324.6" y="362.3" font-size="6.4" text-anchor="middle" fill="#333">Weeks</text>
<text x="119.2" y="263.9" font-size="6.6" text-anchor="middle" fill="#333">Sort CD45.2+</text>
<text x="119.2" y="271.6" font-size="6.6" text-anchor="middle" fill="#333"><tspan font-style="italic">Dnmt3a</tspan><tspan font-size="4.3" dy="-2.3">+/−</tspan><tspan font-style="italic" dy="2.3"> Flt3</tspan><tspan font-size="4.3" dy="-2.3" font-style="italic">ITD</tspan><tspan dy="2.3"> AML</tspan></text>
<text x="119.2" y="279.2" font-size="6.6" text-anchor="middle" fill="#333">HSC, MPP1, MPP2</text>
<path d="M92.4 291.8 L116.6 289.8 L116.6 317.8 L92.4 317.8 Z" fill="#3f4c69"/>
<path d="M92.4 291.8 L116.6 289.8 L118 288.8 L94 290.6 Z" fill="#6a7590"/>
<rect x="116.2" y="288.8" width="29.4" height="30.2" fill="#e9e9eb"/>
<rect x="141.2" y="288.8" width="4.4" height="30.2" fill="#cfcfd3"/>
<rect x="117.6" y="294.4" width="22.2" height="19" fill="#f2f2f2"/>
<rect x="117.4" y="305.4" width="9.6" height="11" fill="#c6c6c6"/>
<rect x="127.4" y="302.6" width="7.6" height="13.8" fill="#d5dbd6"/>
<line x1="123" y1="295" x2="123" y2="302.6" stroke="#a8a8a8" stroke-width="0.5"/>
<line x1="125.2" y1="295.6" x2="125.2" y2="302.6" stroke="#b4b4b4" stroke-width="0.5"/>
<line x1="130.4" y1="295.4" x2="130.4" y2="302.6" stroke="#8e8e8e" stroke-width="0.6"/>
<line x1="128.2" y1="296.4" x2="128.2" y2="302.6" stroke="#a0a0a0" stroke-width="0.5"/>
<rect x="129.2" y="311" width="3.2" height="2.6" fill="#4a4a4a"/>
<rect x="116.2" y="316.8" width="29.4" height="2.2" fill="#d6d6d9"/>
<path d="M112.8 303.4 L116.6 301.8 L116.6 305.2 Z" fill="#1b2336"/>
<circle cx="139.8" cy="314.6" r="0.5" fill="#a33"/>
<line x1="119.8" y1="319" x2="119.8" y2="339.6" stroke="#2a2a2a" stroke-width="1"/>
<text x="178" y="267.7" font-size="6.4" text-anchor="middle" fill="#333">sorted</text>
<text x="178" y="275.8" font-size="6.6" text-anchor="middle" fill="#333">AML</text>
<g transform="translate(172.7 282) rotate(51.4)">
<line x1="0" y1="-2.1" x2="0" y2="2.1" stroke="#333" stroke-width="0.8"/>
<line x1="0" y1="0" x2="4" y2="0" stroke="#333" stroke-width="0.7"/>
<line x1="4" y1="-2.5" x2="4" y2="2.5" stroke="#333" stroke-width="0.8"/>
<rect x="4" y="-1.6" width="15.5" height="3.2" fill="#fbfbfb" stroke="#3a3a3a" stroke-width="0.6"/>
<rect x="11.3" y="-1.6" width="7" height="3.2" fill="#222"/>
<line x1="6.5" y1="-1.6" x2="6.5" y2="0" stroke="#777" stroke-width="0.3"/>
<line x1="8" y1="-1.6" x2="8" y2="0" stroke="#777" stroke-width="0.3"/>
<line x1="9.5" y1="-1.6" x2="9.5" y2="0" stroke="#777" stroke-width="0.3"/>
<line x1="19.5" y1="0" x2="27.3" y2="0" stroke="#666" stroke-width="0.5"/>
</g>
<line x1="187.2" y1="315.2" x2="187.2" y2="339.6" stroke="#2a2a2a" stroke-width="1"/>
<g transform="translate(160.5 -10.1)">
<path d="M32.6 314.2 C29.5 314.4 26.2 315.8 25.0 318.4 C24.4 321 26.5 323.2 31.5 323.3 C38 323.2 44 322.4 50.2 321.9" fill="none" stroke="#aa9392" stroke-width="1.15"/>
<path d="M32 312.6 C32.5 308 36.5 304.6 41.5 303.4 C46 302.6 53 302.8 57.5 303.2 L59.2 301.4 L60.6 299.9 L62.2 300.6 L63 302.2 C66.5 303 69.8 304.8 71.5 307 C70.8 308.6 69.5 309.8 68.2 310.4 C66.5 311.2 64.5 312 63.4 312.6 L62.2 315.6 L63.6 317.8 L60.6 318.2 L59.2 316.6 C54 317.4 48 317.8 43 318.4 L41.5 319.0 L36.5 319.0 C34 318 32.6 316 32 312.6 Z" fill="#413939"/>
<path d="M57.4 303.6 L59.6 303.0 L60.2 307.0 L58.0 307.6 Z" fill="#c6b3b2"/>
<path d="M60.4 300.2 L61.8 300.8 L62.0 303.0 L60.6 303.2 Z" fill="#241f20"/>
<circle cx="66.2" cy="305" r="0.45" fill="#0d0d0d"/>
<path d="M60.8 317.4 L63.8 317.6 L65.8 318.4 L65.4 319.4 L61.2 319.2 Z" fill="#bfa5a2"/>
<path d="M36.2 317.8 L42.0 318.0 L42.6 319.6 L36.0 319.6 Z" fill="#b49894"/>
</g>
<path transform="translate(171.5 297.8)" d="M0 -7.7 C1.4 -4.8 4.8 -1.4 4.8 2.5 C4.8 5.4 2.7 7.4 0 7.4 C-2.7 7.4 -4.8 5.4 -4.8 2.5 C-4.8 -1.4 -1.4 -4.8 0 -7.7 Z" fill="#c70f30"/>
<text x="171.5" y="313" font-size="6.4" text-anchor="middle" fill="#4a4a4a" stroke="#4a4a4a" stroke-width="0.12">PB</text>
<line x1="171.5" y1="319" x2="171.5" y2="339.6" stroke="#2a2a2a" stroke-width="1"/>
<circle cx="171.5" cy="317.3" r="1.75" fill="#fff" stroke="#222" stroke-width="1.0"/>
<path transform="translate(257.8 297.8)" d="M0 -7.7 C1.4 -4.8 4.8 -1.4 4.8 2.5 C4.8 5.4 2.7 7.4 0 7.4 C-2.7 7.4 -4.8 5.4 -4.8 2.5 C-4.8 -1.4 -1.4 -4.8 0 -7.7 Z" fill="#c70f30"/>
<text x="257.8" y="313" font-size="6.4" text-anchor="middle" fill="#4a4a4a" stroke="#4a4a4a" stroke-width="0.12">PB</text>
<line x1="257.8" y1="319" x2="257.8" y2="339.6" stroke="#2a2a2a" stroke-width="1"/>
<circle cx="257.8" cy="317.3" r="1.75" fill="#fff" stroke="#222" stroke-width="1.0"/>
<text x="257.8" y="349.9" font-size="6.2" text-anchor="middle" fill="#333">2</text>
<path transform="translate(285 297.8)" d="M0 -7.7 C1.4 -4.8 4.8 -1.4 4.8 2.5 C4.8 5.4 2.7 7.4 0 7.4 C-2.7 7.4 -4.8 5.4 -4.8 2.5 C-4.8 -1.4 -1.4 -4.8 0 -7.7 Z" fill="#c70f30"/>
<text x="285" y="313" font-size="6.4" text-anchor="middle" fill="#4a4a4a" stroke="#4a4a4a" stroke-width="0.12">PB</text>
<line x1="285" y1="319" x2="285" y2="339.6" stroke="#2a2a2a" stroke-width="1"/>
<circle cx="285" cy="317.3" r="1.75" fill="#fff" stroke="#222" stroke-width="1.0"/>
<text x="285" y="349.9" font-size="6.2" text-anchor="middle" fill="#333">4</text>
<path transform="translate(311.1 297.8)" d="M0 -7.7 C1.4 -4.8 4.8 -1.4 4.8 2.5 C4.8 5.4 2.7 7.4 0 7.4 C-2.7 7.4 -4.8 5.4 -4.8 2.5 C-4.8 -1.4 -1.4 -4.8 0 -7.7 Z" fill="#c70f30"/>
<text x="311.1" y="313" font-size="6.4" text-anchor="middle" fill="#4a4a4a" stroke="#4a4a4a" stroke-width="0.12">PB</text>
<line x1="311.1" y1="319" x2="311.1" y2="339.6" stroke="#2a2a2a" stroke-width="1"/>
<circle cx="311.1" cy="317.3" r="1.75" fill="#fff" stroke="#222" stroke-width="1.0"/>
<text x="311.1" y="349.9" font-size="6.2" text-anchor="middle" fill="#333">6</text>
<path transform="translate(337.6 297.8)" d="M0 -7.7 C1.4 -4.8 4.8 -1.4 4.8 2.5 C4.8 5.4 2.7 7.4 0 7.4 C-2.7 7.4 -4.8 5.4 -4.8 2.5 C-4.8 -1.4 -1.4 -4.8 0 -7.7 Z" fill="#c70f30"/>
<text x="337.6" y="313" font-size="6.4" text-anchor="middle" fill="#4a4a4a" stroke="#4a4a4a" stroke-width="0.12">PB</text>
<line x1="337.6" y1="319" x2="337.6" y2="339.6" stroke="#2a2a2a" stroke-width="1"/>
<circle cx="337.6" cy="317.3" r="1.75" fill="#fff" stroke="#222" stroke-width="1.0"/>
<text x="337.6" y="349.9" font-size="6.2" text-anchor="middle" fill="#333">10</text>
<path transform="translate(363.8 297.8)" d="M0 -7.7 C1.4 -4.8 4.8 -1.4 4.8 2.5 C4.8 5.4 2.7 7.4 0 7.4 C-2.7 7.4 -4.8 5.4 -4.8 2.5 C-4.8 -1.4 -1.4 -4.8 0 -7.7 Z" fill="#c70f30"/>
<text x="363.8" y="313" font-size="6.4" text-anchor="middle" fill="#4a4a4a" stroke="#4a4a4a" stroke-width="0.12">PB</text>
<line x1="363.8" y1="319" x2="363.8" y2="339.6" stroke="#2a2a2a" stroke-width="1"/>
<circle cx="363.8" cy="317.3" r="1.75" fill="#fff" stroke="#222" stroke-width="1.0"/>
<text x="363.8" y="349.9" font-size="6.2" text-anchor="middle" fill="#333">14</text>
<path transform="translate(391.2 297.8)" d="M0 -7.7 C1.4 -4.8 4.8 -1.4 4.8 2.5 C4.8 5.4 2.7 7.4 0 7.4 C-2.7 7.4 -4.8 5.4 -4.8 2.5 C-4.8 -1.4 -1.4 -4.8 0 -7.7 Z" fill="#c70f30"/>
<text x="391.2" y="313" font-size="6.4" text-anchor="middle" fill="#4a4a4a" stroke="#4a4a4a" stroke-width="0.12">PB</text>
<line x1="391.2" y1="319" x2="391.2" y2="339.6" stroke="#2a2a2a" stroke-width="1"/>
<circle cx="391.2" cy="317.3" r="1.75" fill="#fff" stroke="#222" stroke-width="1.0"/>
<text x="391.2" y="349.9" font-size="6.2" text-anchor="middle" fill="#333">20</text>
<text x="7.1" y="388.9" font-size="11.2" fill="#111" font-weight="bold">F</text>
<text x="91.3" y="391" font-size="8.6" text-anchor="middle"><tspan font-style="italic">Dnmt3a</tspan><tspan font-size="5.6" dy="-3.4">+/−</tspan><tspan font-style="italic" dy="3.4">Flt3</tspan><tspan font-size="5.6" dy="-3.4" font-style="italic">ITD</tspan><tspan dy="3.4"> AML Donor 1</tspan></text>
<line x1="38.8" y1="396.7" x2="38.8" y2="467" stroke="#1c1c1c" stroke-width="1"/>
<line x1="38.3" y1="467" x2="142.84" y2="467" stroke="#1c1c1c" stroke-width="1"/>
<line x1="36.6" y1="467" x2="38.8" y2="467" stroke="#1c1c1c" stroke-width="0.9"/>
<text x="34.2" y="469.5" font-size="6.4" text-anchor="end" fill="#3a3a3a">0</text>
<line x1="36.6" y1="453.34" x2="38.8" y2="453.34" stroke="#1c1c1c" stroke-width="0.9"/>
<text x="34.2" y="455.84" font-size="6.4" text-anchor="end" fill="#3a3a3a">10</text>
<line x1="36.6" y1="439.68" x2="38.8" y2="439.68" stroke="#1c1c1c" stroke-width="0.9"/>
<text x="34.2" y="442.18" font-size="6.4" text-anchor="end" fill="#3a3a3a">20</text>
<line x1="36.6" y1="426.02" x2="38.8" y2="426.02" stroke="#1c1c1c" stroke-width="0.9"/>
<text x="34.2" y="428.52" font-size="6.4" text-anchor="end" fill="#3a3a3a">30</text>
<line x1="36.6" y1="412.36" x2="38.8" y2="412.36" stroke="#1c1c1c" stroke-width="0.9"/>
<text x="34.2" y="414.86" font-size="6.4" text-anchor="end" fill="#3a3a3a">40</text>
<line x1="36.6" y1="398.7" x2="38.8" y2="398.7" stroke="#1c1c1c" stroke-width="0.9"/>
<text x="34.2" y="401.2" font-size="6.4" text-anchor="end" fill="#3a3a3a">50</text>
<line x1="38.8" y1="467" x2="38.8" y2="469.2" stroke="#1c1c1c" stroke-width="0.9"/>
<text x="38.8" y="478" font-size="6.4" text-anchor="middle" fill="#3a3a3a">0</text>
<line x1="59.2" y1="467" x2="59.2" y2="469.2" stroke="#1c1c1c" stroke-width="0.9"/>
<text x="59.2" y="478" font-size="6.4" text-anchor="middle" fill="#3a3a3a">5</text>
<line x1="79.6" y1="467" x2="79.6" y2="469.2" stroke="#1c1c1c" stroke-width="0.9"/>
<text x="79.6" y="478" font-size="6.4" text-anchor="middle" fill="#3a3a3a">10</text>
<line x1="100" y1="467" x2="100" y2="469.2" stroke="#1c1c1c" stroke-width="0.9"/>
<text x="100" y="478" font-size="6.4" text-anchor="middle" fill="#3a3a3a">15</text>
<line x1="120.4" y1="467" x2="120.4" y2="469.2" stroke="#1c1c1c" stroke-width="0.9"/>
<text x="120.4" y="478" font-size="6.4" text-anchor="middle" fill="#3a3a3a">20</text>
<line x1="140.8" y1="467" x2="140.8" y2="469.2" stroke="#1c1c1c" stroke-width="0.9"/>
<text x="140.8" y="478" font-size="6.4" text-anchor="middle" fill="#3a3a3a">25</text>
<text x="91.02" y="490.9" font-size="9" text-anchor="middle" textLength="17.3" lengthAdjust="spacingAndGlyphs" stroke="#222" stroke-width="0.1">Weeks</text>
<polyline points="38.8,467 46.96,463.58 55.12,467 63.28,467 71.44,467 79.6,467 87.76,467 95.92,467 104.08,467 120.4,467" fill="none" stroke="#a6bde0" stroke-width="1.15"/>
<polyline points="38.8,467 46.96,467 55.12,467 63.28,467 71.44,467 79.6,468.37 87.76,467 95.92,467 104.08,467 120.4,467" fill="none" stroke="#938ac6" stroke-width="1.15"/>
<polyline points="38.8,467 46.96,465.36 55.12,408.94 63.28,448.7 71.44,467 79.6,464.68 87.76,466.73 95.92,467 104.08,467 120.4,467" fill="none" stroke="#1d4675" stroke-width="1.15"/>
<line x1="38.3" y1="467" x2="142.84" y2="467" stroke="#1c1c1c" stroke-width="1.1"/>
<path d="M38.8 464.8 L41 468.76 L36.6 468.76 Z" fill="#a6bde0"/>
<path d="M46.96 461.38 L49.16 465.34 L44.76 465.34 Z" fill="#a6bde0"/>
<path d="M55.12 464.8 L57.32 468.76 L52.92 468.76 Z" fill="#a6bde0"/>
<path d="M63.28 464.8 L65.48 468.76 L61.08 468.76 Z" fill="#a6bde0"/>
<path d="M71.44 464.8 L73.64 468.76 L69.24 468.76 Z" fill="#a6bde0"/>
<path d="M79.6 464.8 L81.8 468.76 L77.4 468.76 Z" fill="#a6bde0"/>
<path d="M87.76 464.8 L89.96 468.76 L85.56 468.76 Z" fill="#a6bde0"/>
<path d="M95.92 464.8 L98.12 468.76 L93.72 468.76 Z" fill="#a6bde0"/>
<path d="M104.08 464.8 L106.28 468.76 L101.88 468.76 Z" fill="#a6bde0"/>
<path d="M120.4 464.8 L122.6 468.76 L118.2 468.76 Z" fill="#a6bde0"/>
<rect x="36.95" y="465.15" width="3.7" height="3.7" fill="#938ac6"/>
<rect x="45.11" y="465.15" width="3.7" height="3.7" fill="#938ac6"/>
<rect x="53.27" y="465.15" width="3.7" height="3.7" fill="#938ac6"/>
<rect x="61.43" y="465.15" width="3.7" height="3.7" fill="#938ac6"/>
<rect x="69.59" y="465.15" width="3.7" height="3.7" fill="#938ac6"/>
<rect x="77.75" y="466.52" width="3.7" height="3.7" fill="#938ac6"/>
<rect x="85.91" y="465.15" width="3.7" height="3.7" fill="#938ac6"/>
<rect x="94.07" y="465.15" width="3.7" height="3.7" fill="#938ac6"/>
<rect x="102.23" y="465.15" width="3.7" height="3.7" fill="#938ac6"/>
<rect x="118.55" y="465.15" width="3.7" height="3.7" fill="#938ac6"/>
<circle cx="38.8" cy="467" r="2.1" fill="#1d4675"/>
<circle cx="46.96" cy="465.36" r="2.1" fill="#1d4675"/>
<circle cx="55.12" cy="408.94" r="2.1" fill="#1d4675"/>
<circle cx="63.28" cy="448.7" r="2.1" fill="#1d4675"/>
<circle cx="71.44" cy="467" r="2.1" fill="#1d4675"/>
<circle cx="79.6" cy="464.68" r="2.1" fill="#1d4675"/>
<circle cx="87.76" cy="466.73" r="2.1" fill="#1d4675"/>
<circle cx="95.92" cy="467" r="2.1" fill="#1d4675"/>
<circle cx="104.08" cy="467" r="2.1" fill="#1d4675"/>
<circle cx="120.4" cy="467" r="2.1" fill="#1d4675"/>
<line x1="98.7" y1="404.9" x2="107.1" y2="404.9" stroke="#1d4675" stroke-width="1.15"/>
<circle cx="102.9" cy="404.9" r="2.1" fill="#1d4675"/>
<text x="109.8" y="407.2" font-size="6.6" fill="#333">HSC (45)</text>
<line x1="98.7" y1="415.1" x2="107.1" y2="415.1" stroke="#938ac6" stroke-width="1.15"/>
<rect x="101.05" y="413.25" width="3.7" height="3.7" fill="#938ac6"/>
<text x="109.8" y="417.4" font-size="6.6" fill="#333">MPP1 (45)</text>
<line x1="98.7" y1="425.3" x2="107.1" y2="425.3" stroke="#a6bde0" stroke-width="1.15"/>
<path d="M102.9 423.1 L105.1 427.06 L100.7 427.06 Z" fill="#a6bde0"/>
<text x="109.8" y="427.6" font-size="6.6" fill="#333">MPP2 (45)</text>
<text x="20.2" y="432.2" font-size="7.3" text-anchor="middle" transform="rotate(-90 20.2 432.2)" textLength="40" lengthAdjust="spacingAndGlyphs" stroke="#222" stroke-width="0.15">% CD45.2+ PB</text>
<text x="235" y="391" font-size="8.6" text-anchor="middle"><tspan font-style="italic">Dnmt3a</tspan><tspan font-size="5.6" dy="-3.4">+/−</tspan><tspan font-style="italic" dy="3.4">Flt3</tspan><tspan font-size="5.6" dy="-3.4" font-style="italic">ITD</tspan><tspan dy="3.4"> AML Donor 2</tspan></text>
<line x1="181.5" y1="395.6" x2="181.5" y2="467.2" stroke="#1c1c1c" stroke-width="1"/>
<line x1="181" y1="467.2" x2="287.83" y2="467.2" stroke="#1c1c1c" stroke-width="1"/>
<line x1="179.3" y1="467.2" x2="181.5" y2="467.2" stroke="#1c1c1c" stroke-width="0.9"/>
<text x="176.9" y="469.7" font-size="6.4" text-anchor="end" fill="#3a3a3a">0</text>
<line x1="179.3" y1="453.28" x2="181.5" y2="453.28" stroke="#1c1c1c" stroke-width="0.9"/>
<text x="176.9" y="455.78" font-size="6.4" text-anchor="end" fill="#3a3a3a">20</text>
<line x1="179.3" y1="439.36" x2="181.5" y2="439.36" stroke="#1c1c1c" stroke-width="0.9"/>
<text x="176.9" y="441.86" font-size="6.4" text-anchor="end" fill="#3a3a3a">40</text>
<line x1="179.3" y1="425.44" x2="181.5" y2="425.44" stroke="#1c1c1c" stroke-width="0.9"/>
<text x="176.9" y="427.94" font-size="6.4" text-anchor="end" fill="#3a3a3a">60</text>
<line x1="179.3" y1="411.52" x2="181.5" y2="411.52" stroke="#1c1c1c" stroke-width="0.9"/>
<text x="176.9" y="414.02" font-size="6.4" text-anchor="end" fill="#3a3a3a">80</text>
<line x1="179.3" y1="397.6" x2="181.5" y2="397.6" stroke="#1c1c1c" stroke-width="0.9"/>
<text x="176.9" y="400.1" font-size="6.4" text-anchor="end" fill="#3a3a3a">100</text>
<line x1="181.5" y1="467.2" x2="181.5" y2="469.4" stroke="#1c1c1c" stroke-width="0.9"/>
<text x="181.5" y="478.2" font-size="6.4" text-anchor="middle" fill="#3a3a3a">0</text>
<line x1="202.35" y1="467.2" x2="202.35" y2="469.4" stroke="#1c1c1c" stroke-width="0.9"/>
<text x="202.35" y="478.2" font-size="6.4" text-anchor="middle" fill="#3a3a3a">5</text>
<line x1="223.2" y1="467.2" x2="223.2" y2="469.4" stroke="#1c1c1c" stroke-width="0.9"/>
<text x="223.2" y="478.2" font-size="6.4" text-anchor="middle" fill="#3a3a3a">10</text>
<line x1="244.05" y1="467.2" x2="244.05" y2="469.4" stroke="#1c1c1c" stroke-width="0.9"/>
<text x="244.05" y="478.2" font-size="6.4" text-anchor="middle" fill="#3a3a3a">15</text>
<line x1="264.9" y1="467.2" x2="264.9" y2="469.4" stroke="#1c1c1c" stroke-width="0.9"/>
<text x="264.9" y="478.2" font-size="6.4" text-anchor="middle" fill="#3a3a3a">20</text>
<line x1="285.75" y1="467.2" x2="285.75" y2="469.4" stroke="#1c1c1c" stroke-width="0.9"/>
<text x="285.75" y="478.2" font-size="6.4" text-anchor="middle" fill="#3a3a3a">25</text>
<text x="234.88" y="491.1" font-size="9" text-anchor="middle" textLength="17.3" lengthAdjust="spacingAndGlyphs" stroke="#222" stroke-width="0.1">Weeks</text>
<polyline points="181.5,467.2 189.84,467.2 198.18,467.2 206.52,464.42 214.86,466.5 223.2,461.98 239.88,467.2 264.9,467.2" fill="none" stroke="#a6bde0" stroke-width="1.15"/>
<polyline points="181.5,467.2 189.84,467.2 198.18,467.2 206.52,467.2 214.86,467.2 223.2,467.2 239.88,467.2 264.9,467.2" fill="none" stroke="#938ac6" stroke-width="1.15"/>
<polyline points="181.5,467.2 189.84,467.2 198.18,465.25 206.52,408.74 214.86,405.6 223.2,402.12" fill="none" stroke="#1d4675" stroke-width="1.15"/>
<line x1="181" y1="467.2" x2="287.83" y2="467.2" stroke="#1c1c1c" stroke-width="1.1"/>
<path d="M181.5 465 L183.7 468.96 L179.3 468.96 Z" fill="#a6bde0"/>
<path d="M189.84 465 L192.04 468.96 L187.64 468.96 Z" fill="#a6bde0"/>
<path d="M198.18 465 L200.38 468.96 L195.98 468.96 Z" fill="#a6bde0"/>
<path d="M206.52 462.22 L208.72 466.18 L204.32 466.18 Z" fill="#a6bde0"/>
<path d="M214.86 464.3 L217.06 468.26 L212.66 468.26 Z" fill="#a6bde0"/>
<path d="M223.2 459.78 L225.4 463.74 L221 463.74 Z" fill="#a6bde0"/>
<path d="M239.88 465 L242.08 468.96 L237.68 468.96 Z" fill="#a6bde0"/>
<path d="M264.9 465 L267.1 468.96 L262.7 468.96 Z" fill="#a6bde0"/>
<rect x="179.65" y="465.35" width="3.7" height="3.7" fill="#938ac6"/>
<rect x="187.99" y="465.35" width="3.7" height="3.7" fill="#938ac6"/>
<rect x="196.33" y="465.35" width="3.7" height="3.7" fill="#938ac6"/>
<rect x="204.67" y="465.35" width="3.7" height="3.7" fill="#938ac6"/>
<rect x="213.01" y="465.35" width="3.7" height="3.7" fill="#938ac6"/>
<rect x="221.35" y="465.35" width="3.7" height="3.7" fill="#938ac6"/>
<rect x="238.03" y="465.35" width="3.7" height="3.7" fill="#938ac6"/>
<rect x="263.05" y="465.35" width="3.7" height="3.7" fill="#938ac6"/>
<circle cx="181.5" cy="467.2" r="2.1" fill="#1d4675"/>
<circle cx="189.84" cy="467.2" r="2.1" fill="#1d4675"/>
<circle cx="198.18" cy="465.25" r="2.1" fill="#1d4675"/>
<circle cx="206.52" cy="408.74" r="2.1" fill="#1d4675"/>
<circle cx="214.86" cy="405.6" r="2.1" fill="#1d4675"/>
<circle cx="223.2" cy="402.12" r="2.1" fill="#1d4675"/>
<line x1="244.1" y1="402.7" x2="252.5" y2="402.7" stroke="#1d4675" stroke-width="1.15"/>
<circle cx="248.3" cy="402.7" r="2.1" fill="#1d4675"/>
<text x="255.2" y="405" font-size="6.6" fill="#333">HSC (91)</text>
<line x1="244.1" y1="412.9" x2="252.5" y2="412.9" stroke="#938ac6" stroke-width="1.15"/>
<rect x="246.45" y="411.05" width="3.7" height="3.7" fill="#938ac6"/>
<text x="255.2" y="415.2" font-size="6.6" fill="#333">MPP1 (67)</text>
<line x1="244.1" y1="423.1" x2="252.5" y2="423.1" stroke="#a6bde0" stroke-width="1.15"/>
<path d="M248.3 420.9 L250.5 424.86 L246.1 424.86 Z" fill="#a6bde0"/>
<text x="255.2" y="425.4" font-size="6.6" fill="#333">MPP2 (85)</text>
<text x="91.9" y="519" font-size="8.6" text-anchor="middle"><tspan font-style="italic">Dnmt3a</tspan><tspan font-size="5.6" dy="-3.4">+/−</tspan><tspan font-style="italic" dy="3.4">Flt3</tspan><tspan font-size="5.6" dy="-3.4" font-style="italic">ITD</tspan><tspan dy="3.4"> AML Donor 3</tspan></text>
<line x1="36.6" y1="524.7" x2="36.6" y2="597.6" stroke="#1c1c1c" stroke-width="1"/>
<line x1="36.1" y1="597.6" x2="144.97" y2="597.6" stroke="#1c1c1c" stroke-width="1"/>
<line x1="34.4" y1="597.6" x2="36.6" y2="597.6" stroke="#1c1c1c" stroke-width="0.9"/>
<text x="32" y="600.1" font-size="6.4" text-anchor="end" fill="#3a3a3a">0</text>
<line x1="34.4" y1="583.42" x2="36.6" y2="583.42" stroke="#1c1c1c" stroke-width="0.9"/>
<text x="32" y="585.92" font-size="6.4" text-anchor="end" fill="#3a3a3a">20</text>
<line x1="34.4" y1="569.24" x2="36.6" y2="569.24" stroke="#1c1c1c" stroke-width="0.9"/>
<text x="32" y="571.74" font-size="6.4" text-anchor="end" fill="#3a3a3a">40</text>
<line x1="34.4" y1="555.06" x2="36.6" y2="555.06" stroke="#1c1c1c" stroke-width="0.9"/>
<text x="32" y="557.56" font-size="6.4" text-anchor="end" fill="#3a3a3a">60</text>
<line x1="34.4" y1="540.88" x2="36.6" y2="540.88" stroke="#1c1c1c" stroke-width="0.9"/>
<text x="32" y="543.38" font-size="6.4" text-anchor="end" fill="#3a3a3a">80</text>
<line x1="34.4" y1="526.7" x2="36.6" y2="526.7" stroke="#1c1c1c" stroke-width="0.9"/>
<text x="32" y="529.2" font-size="6.4" text-anchor="end" fill="#3a3a3a">100</text>
<line x1="36.6" y1="597.6" x2="36.6" y2="599.8" stroke="#1c1c1c" stroke-width="0.9"/>
<text x="36.6" y="608.6" font-size="6.4" text-anchor="middle" fill="#3a3a3a">0</text>
<line x1="57.85" y1="597.6" x2="57.85" y2="599.8" stroke="#1c1c1c" stroke-width="0.9"/>
<text x="57.85" y="608.6" font-size="6.4" text-anchor="middle" fill="#3a3a3a">5</text>
<line x1="79.1" y1="597.6" x2="79.1" y2="599.8" stroke="#1c1c1c" stroke-width="0.9"/>
<text x="79.1" y="608.6" font-size="6.4" text-anchor="middle" fill="#3a3a3a">10</text>
<line x1="100.35" y1="597.6" x2="100.35" y2="599.8" stroke="#1c1c1c" stroke-width="0.9"/>
<text x="100.35" y="608.6" font-size="6.4" text-anchor="middle" fill="#3a3a3a">15</text>
<line x1="121.6" y1="597.6" x2="121.6" y2="599.8" stroke="#1c1c1c" stroke-width="0.9"/>
<text x="121.6" y="608.6" font-size="6.4" text-anchor="middle" fill="#3a3a3a">20</text>
<line x1="142.85" y1="597.6" x2="142.85" y2="599.8" stroke="#1c1c1c" stroke-width="0.9"/>
<text x="142.85" y="608.6" font-size="6.4" text-anchor="middle" fill="#3a3a3a">25</text>
<text x="91" y="621.5" font-size="9" text-anchor="middle" textLength="17.3" lengthAdjust="spacingAndGlyphs" stroke="#222" stroke-width="0.1">Weeks</text>
<polyline points="36.6,597.6 45.1,597.6 53.6,597.6 62.1,597.6 79.1,597.6 87.6,597.6 96.1,597.6 104.6,597.6 121.6,597.6" fill="none" stroke="#a6bde0" stroke-width="1.15"/>
<polyline points="36.6,597.6 45.1,597.6 53.6,597.6 62.1,597.6 79.1,597.6 87.6,597.6 96.1,597.6 104.6,597.25 121.6,597.6" fill="none" stroke="#938ac6" stroke-width="1.15"/>
<polyline points="36.6,597.6 45.1,597.6 53.6,595.83 62.1,572.43 79.1,537.69 87.6,537.69" fill="none" stroke="#1d4675" stroke-width="1.15"/>
<line x1="36.1" y1="597.6" x2="144.97" y2="597.6" stroke="#1c1c1c" stroke-width="1.1"/>
<path d="M36.6 595.4 L38.8 599.36 L34.4 599.36 Z" fill="#a6bde0"/>
<path d="M45.1 595.4 L47.3 599.36 L42.9 599.36 Z" fill="#a6bde0"/>
<path d="M53.6 595.4 L55.8 599.36 L51.4 599.36 Z" fill="#a6bde0"/>
<path d="M62.1 595.4 L64.3 599.36 L59.9 599.36 Z" fill="#a6bde0"/>
<path d="M79.1 595.4 L81.3 599.36 L76.9 599.36 Z" fill="#a6bde0"/>
<path d="M87.6 595.4 L89.8 599.36 L85.4 599.36 Z" fill="#a6bde0"/>
<path d="M96.1 595.4 L98.3 599.36 L93.9 599.36 Z" fill="#a6bde0"/>
<path d="M104.6 595.4 L106.8 599.36 L102.4 599.36 Z" fill="#a6bde0"/>
<path d="M121.6 595.4 L123.8 599.36 L119.4 599.36 Z" fill="#a6bde0"/>
<rect x="34.75" y="595.75" width="3.7" height="3.7" fill="#938ac6"/>
<rect x="43.25" y="595.75" width="3.7" height="3.7" fill="#938ac6"/>
<rect x="51.75" y="595.75" width="3.7" height="3.7" fill="#938ac6"/>
<rect x="60.25" y="595.75" width="3.7" height="3.7" fill="#938ac6"/>
<rect x="77.25" y="595.75" width="3.7" height="3.7" fill="#938ac6"/>
<rect x="85.75" y="595.75" width="3.7" height="3.7" fill="#938ac6"/>
<rect x="94.25" y="595.75" width="3.7" height="3.7" fill="#938ac6"/>
<rect x="102.75" y="595.4" width="3.7" height="3.7" fill="#938ac6"/>
<rect x="119.75" y="595.75" width="3.7" height="3.7" fill="#938ac6"/>
<circle cx="36.6" cy="597.6" r="2.1" fill="#1d4675"/>
<circle cx="45.1" cy="597.6" r="2.1" fill="#1d4675"/>
<circle cx="53.6" cy="595.83" r="2.1" fill="#1d4675"/>
<circle cx="62.1" cy="572.43" r="2.1" fill="#1d4675"/>
<circle cx="79.1" cy="537.69" r="2.1" fill="#1d4675"/>
<circle cx="87.6" cy="537.69" r="2.1" fill="#1d4675"/>
<line x1="98.8" y1="534.2" x2="107.2" y2="534.2" stroke="#1d4675" stroke-width="1.15"/>
<circle cx="103" cy="534.2" r="2.1" fill="#1d4675"/>
<text x="109.9" y="536.5" font-size="6.6" fill="#333">HSC (200)</text>
<line x1="98.8" y1="544.4" x2="107.2" y2="544.4" stroke="#938ac6" stroke-width="1.15"/>
<rect x="101.15" y="542.55" width="3.7" height="3.7" fill="#938ac6"/>
<text x="109.9" y="546.7" font-size="6.6" fill="#333">MPP1 (200)</text>
<line x1="98.8" y1="554.6" x2="107.2" y2="554.6" stroke="#a6bde0" stroke-width="1.15"/>
<path d="M103 552.4 L105.2 556.36 L100.8 556.36 Z" fill="#a6bde0"/>
<text x="109.9" y="556.9" font-size="6.6" fill="#333">MPP2 (200)</text>
<text x="14.5" y="561.4" font-size="7.3" text-anchor="middle" transform="rotate(-90 14.5 561.4)" textLength="40" lengthAdjust="spacingAndGlyphs" stroke="#222" stroke-width="0.15">% CD45.2+ PB</text>
<text x="236.9" y="519" font-size="8.6" text-anchor="middle"><tspan font-style="italic">Dnmt3a</tspan><tspan font-size="5.6" dy="-3.4">+/−</tspan><tspan font-style="italic" dy="3.4">Flt3</tspan><tspan font-size="5.6" dy="-3.4" font-style="italic">ITD</tspan><tspan dy="3.4"> AML Donor 4</tspan></text>
<line x1="181.2" y1="524.7" x2="181.2" y2="597.6" stroke="#1c1c1c" stroke-width="1"/>
<line x1="180.7" y1="597.6" x2="290.59" y2="597.6" stroke="#1c1c1c" stroke-width="1"/>
<line x1="179" y1="597.6" x2="181.2" y2="597.6" stroke="#1c1c1c" stroke-width="0.9"/>
<text x="176.6" y="600.1" font-size="6.4" text-anchor="end" fill="#3a3a3a">0</text>
<line x1="179" y1="583.42" x2="181.2" y2="583.42" stroke="#1c1c1c" stroke-width="0.9"/>
<text x="176.6" y="585.92" font-size="6.4" text-anchor="end" fill="#3a3a3a">20</text>
<line x1="179" y1="569.24" x2="181.2" y2="569.24" stroke="#1c1c1c" stroke-width="0.9"/>
<text x="176.6" y="571.74" font-size="6.4" text-anchor="end" fill="#3a3a3a">40</text>
<line x1="179" y1="555.06" x2="181.2" y2="555.06" stroke="#1c1c1c" stroke-width="0.9"/>
<text x="176.6" y="557.56" font-size="6.4" text-anchor="end" fill="#3a3a3a">60</text>
<line x1="179" y1="540.88" x2="181.2" y2="540.88" stroke="#1c1c1c" stroke-width="0.9"/>
<text x="176.6" y="543.38" font-size="6.4" text-anchor="end" fill="#3a3a3a">80</text>
<line x1="179" y1="526.7" x2="181.2" y2="526.7" stroke="#1c1c1c" stroke-width="0.9"/>
<text x="176.6" y="529.2" font-size="6.4" text-anchor="end" fill="#3a3a3a">100</text>
<line x1="181.2" y1="597.6" x2="181.2" y2="599.8" stroke="#1c1c1c" stroke-width="0.9"/>
<text x="181.2" y="608.6" font-size="6.4" text-anchor="middle" fill="#3a3a3a">0</text>
<line x1="202.65" y1="597.6" x2="202.65" y2="599.8" stroke="#1c1c1c" stroke-width="0.9"/>
<text x="202.65" y="608.6" font-size="6.4" text-anchor="middle" fill="#3a3a3a">5</text>
<line x1="224.1" y1="597.6" x2="224.1" y2="599.8" stroke="#1c1c1c" stroke-width="0.9"/>
<text x="224.1" y="608.6" font-size="6.4" text-anchor="middle" fill="#3a3a3a">10</text>
<line x1="245.55" y1="597.6" x2="245.55" y2="599.8" stroke="#1c1c1c" stroke-width="0.9"/>
<text x="245.55" y="608.6" font-size="6.4" text-anchor="middle" fill="#3a3a3a">15</text>
<line x1="267" y1="597.6" x2="267" y2="599.8" stroke="#1c1c1c" stroke-width="0.9"/>
<text x="267" y="608.6" font-size="6.4" text-anchor="middle" fill="#3a3a3a">20</text>
<line x1="288.45" y1="597.6" x2="288.45" y2="599.8" stroke="#1c1c1c" stroke-width="0.9"/>
<text x="288.45" y="608.6" font-size="6.4" text-anchor="middle" fill="#3a3a3a">25</text>
<text x="236.11" y="621.5" font-size="9" text-anchor="middle" textLength="17.3" lengthAdjust="spacingAndGlyphs" stroke="#222" stroke-width="0.1">Weeks</text>
<polyline points="181.2,597.6 189.78,597.6 198.36,597.6 206.94,597.6 215.52,597.6 224.1,597.6 241.26,597.6 249.84,597.6 267,597.6" fill="none" stroke="#a6bde0" stroke-width="1.15"/>
<polyline points="181.2,597.6 189.78,597.6 198.36,597.6 206.94,597.6 215.52,588.38 224.1,597.6 241.26,597.03 249.84,597.6 267,597.6" fill="none" stroke="#938ac6" stroke-width="1.15"/>
<polyline points="181.2,597.6 189.78,597.6 198.36,596.18 206.94,552.22 215.52,565.7 224.1,582 241.26,533.79" fill="none" stroke="#1d4675" stroke-width="1.15"/>
<line x1="180.7" y1="597.6" x2="290.59" y2="597.6" stroke="#1c1c1c" stroke-width="1.1"/>
<path d="M181.2 595.4 L183.4 599.36 L179 599.36 Z" fill="#a6bde0"/>
<path d="M189.78 595.4 L191.98 599.36 L187.58 599.36 Z" fill="#a6bde0"/>
<path d="M198.36 595.4 L200.56 599.36 L196.16 599.36 Z" fill="#a6bde0"/>
<path d="M206.94 595.4 L209.14 599.36 L204.74 599.36 Z" fill="#a6bde0"/>
<path d="M215.52 595.4 L217.72 599.36 L213.32 599.36 Z" fill="#a6bde0"/>
<path d="M224.1 595.4 L226.3 599.36 L221.9 599.36 Z" fill="#a6bde0"/>
<path d="M241.26 595.4 L243.46 599.36 L239.06 599.36 Z" fill="#a6bde0"/>
<path d="M249.84 595.4 L252.04 599.36 L247.64 599.36 Z" fill="#a6bde0"/>
<path d="M267 595.4 L269.2 599.36 L264.8 599.36 Z" fill="#a6bde0"/>
<rect x="179.35" y="595.75" width="3.7" height="3.7" fill="#938ac6"/>
<rect x="187.93" y="595.75" width="3.7" height="3.7" fill="#938ac6"/>
<rect x="196.51" y="595.75" width="3.7" height="3.7" fill="#938ac6"/>
<rect x="205.09" y="595.75" width="3.7" height="3.7" fill="#938ac6"/>
<rect x="213.67" y="586.53" width="3.7" height="3.7" fill="#938ac6"/>
<rect x="222.25" y="595.75" width="3.7" height="3.7" fill="#938ac6"/>
<rect x="239.41" y="595.18" width="3.7" height="3.7" fill="#938ac6"/>
<rect x="247.99" y="595.75" width="3.7" height="3.7" fill="#938ac6"/>
<rect x="265.15" y="595.75" width="3.7" height="3.7" fill="#938ac6"/>
<circle cx="181.2" cy="597.6" r="2.1" fill="#1d4675"/>
<circle cx="189.78" cy="597.6" r="2.1" fill="#1d4675"/>
<circle cx="198.36" cy="596.18" r="2.1" fill="#1d4675"/>
<circle cx="206.94" cy="552.22" r="2.1" fill="#1d4675"/>
<circle cx="215.52" cy="565.7" r="2.1" fill="#1d4675"/>
<circle cx="224.1" cy="582" r="2.1" fill="#1d4675"/>
<circle cx="241.26" cy="533.79" r="2.1" fill="#1d4675"/>
<line x1="246.7" y1="534.9" x2="255.1" y2="534.9" stroke="#1d4675" stroke-width="1.15"/>
<circle cx="250.9" cy="534.9" r="2.1" fill="#1d4675"/>
<text x="257.8" y="537.2" font-size="6.6" fill="#333">HSC (517)</text>
<line x1="246.7" y1="545.1" x2="255.1" y2="545.1" stroke="#938ac6" stroke-width="1.15"/>
<rect x="249.05" y="543.25" width="3.7" height="3.7" fill="#938ac6"/>
<text x="257.8" y="547.4" font-size="6.6" fill="#333">MPP1 (507)</text>
<line x1="246.7" y1="555.3" x2="255.1" y2="555.3" stroke="#a6bde0" stroke-width="1.15"/>
<path d="M250.9 553.1 L253.1 557.06 L248.7 557.06 Z" fill="#a6bde0"/>
<text x="257.8" y="557.6" font-size="6.6" fill="#333">MPP2 (500)</text>
<text x="309.6" y="389" font-size="11.2" fill="#111" font-weight="bold">G</text>
<rect x="349.0" y="392.5" width="104.2" height="92.6" fill="none" stroke="#222" stroke-width="1.1"/>
<line x1="346.8" y1="395.5" x2="348.5" y2="395.5" stroke="#1c1c1c" stroke-width="0.9"/>
<text x="344" y="397.9" font-size="6.6" text-anchor="end" fill="#3a3a3a">0.0</text>
<line x1="346.8" y1="417.18" x2="348.5" y2="417.18" stroke="#1c1c1c" stroke-width="0.9"/>
<text x="344" y="419.58" font-size="6.6" text-anchor="end" fill="#3a3a3a">−0.2</text>
<line x1="346.8" y1="438.86" x2="348.5" y2="438.86" stroke="#1c1c1c" stroke-width="0.9"/>
<text x="344" y="441.26" font-size="6.6" text-anchor="end" fill="#3a3a3a">−0.4</text>
<line x1="346.8" y1="460.54" x2="348.5" y2="460.54" stroke="#1c1c1c" stroke-width="0.9"/>
<text x="344" y="462.94" font-size="6.6" text-anchor="end" fill="#3a3a3a">−0.6</text>
<line x1="346.8" y1="482.22" x2="348.5" y2="482.22" stroke="#1c1c1c" stroke-width="0.9"/>
<text x="344" y="484.62" font-size="6.6" text-anchor="end" fill="#3a3a3a">−0.8</text>
<line x1="353.4" y1="485.5" x2="353.4" y2="487.6" stroke="#1c1c1c" stroke-width="0.9"/>
<text x="353.4" y="497" font-size="6.6" text-anchor="middle" fill="#3a3a3a">0</text>
<line x1="371.86" y1="485.5" x2="371.86" y2="487.6" stroke="#1c1c1c" stroke-width="0.9"/>
<text x="371.86" y="497" font-size="6.6" text-anchor="middle" fill="#3a3a3a">100</text>
<line x1="390.32" y1="485.5" x2="390.32" y2="487.6" stroke="#1c1c1c" stroke-width="0.9"/>
<text x="390.32" y="497" font-size="6.6" text-anchor="middle" fill="#3a3a3a">200</text>
<line x1="408.78" y1="485.5" x2="408.78" y2="487.6" stroke="#1c1c1c" stroke-width="0.9"/>
<text x="408.78" y="497" font-size="6.6" text-anchor="middle" fill="#3a3a3a">300</text>
<line x1="427.24" y1="485.5" x2="427.24" y2="487.6" stroke="#1c1c1c" stroke-width="0.9"/>
<text x="427.24" y="497" font-size="6.6" text-anchor="middle" fill="#3a3a3a">400</text>
<line x1="445.7" y1="485.5" x2="445.7" y2="487.6" stroke="#1c1c1c" stroke-width="0.9"/>
<text x="445.7" y="497" font-size="6.6" text-anchor="middle" fill="#3a3a3a">500</text>
<text x="325.8" y="440" font-size="7" text-anchor="middle" transform="rotate(-90 325.8 440)" textLength="78.6" lengthAdjust="spacingAndGlyphs" stroke="#222" stroke-width="0.12">Nonresponding (log fraction)</text>
<text x="401" y="508.6" font-size="9" text-anchor="middle" textLength="23.4" lengthAdjust="spacingAndGlyphs" stroke="#222" stroke-width="0.1">Cell dose</text>
<svg x="349.5" y="393" width="103.2" height="91.6" overflow="hidden"><g transform="translate(-349.5 -393)">
<line x1="349.5" y1="395.5" x2="452.5" y2="395.5" stroke="#b9c5d3" stroke-width="0.9"/>
<line x1="351.4" y1="392.6" x2="363.2" y2="486" stroke="#2f6094" stroke-width="1"/>
<line x1="353.4" y1="395.5" x2="396.59" y2="487.5" stroke="#2f6094" stroke-width="1" stroke-dasharray="2.2 1.4"/>
<line x1="353.4" y1="395.5" x2="404.51" y2="487.5" stroke="#2f6094" stroke-width="1" stroke-dasharray="2.2 1.4"/>
</g></svg>
<circle cx="360.7" cy="395.5" r="0.8" fill="#777"/>
<circle cx="365.3" cy="395.8" r="0.8" fill="#777"/>
<circle cx="389.9" cy="395.5" r="0.8" fill="#777"/>
<circle cx="361" cy="403.6" r="0.8" fill="#777"/>
<circle cx="368.6" cy="401.8" r="0.8" fill="#777"/>
<circle cx="389.9" cy="403.6" r="0.8" fill="#777"/>
<circle cx="360.3" cy="409" r="0.8" fill="#777"/>
<circle cx="360.7" cy="395.5" r="1.1" fill="#333"/>
<circle cx="446.4" cy="395.3" r="0.9" fill="#888"/>
<path d="M368.1 481.22 L370.9 481.22 L369.5 483.6 Z" fill="#111"/>
<path d="M388.2 469.72 L391 469.72 L389.6 472.1 Z" fill="#111"/>
<path d="M448.2 459.32 L451 459.32 L449.6 461.7 Z" fill="#111"/>
<text x="408.4" y="406.8" font-size="6.5" textLength="39.6" lengthAdjust="spacingAndGlyphs">LSC Estimate:</text>
<text x="408.4" y="414" font-size="6.5" fill="#2c4459" textLength="34" lengthAdjust="spacingAndGlyphs">HSC 1/69.4</text>
<text x="408.4" y="421" font-size="6.5" fill="#aaa3cc" textLength="30.4" lengthAdjust="spacingAndGlyphs">MPP1 N/D</text>
<text x="408.4" y="427.9" font-size="6.5" fill="#b0bed0" textLength="30.4" lengthAdjust="spacingAndGlyphs">MPP2 N/D</text>
<rect x="0" y="629" width="520" height="1" fill="#9a9a9a"/>
<rect x="0.5" y="0.5" width="519" height="630" fill="none" stroke="#000" stroke-width="1"/>
</svg>
</body></html>
